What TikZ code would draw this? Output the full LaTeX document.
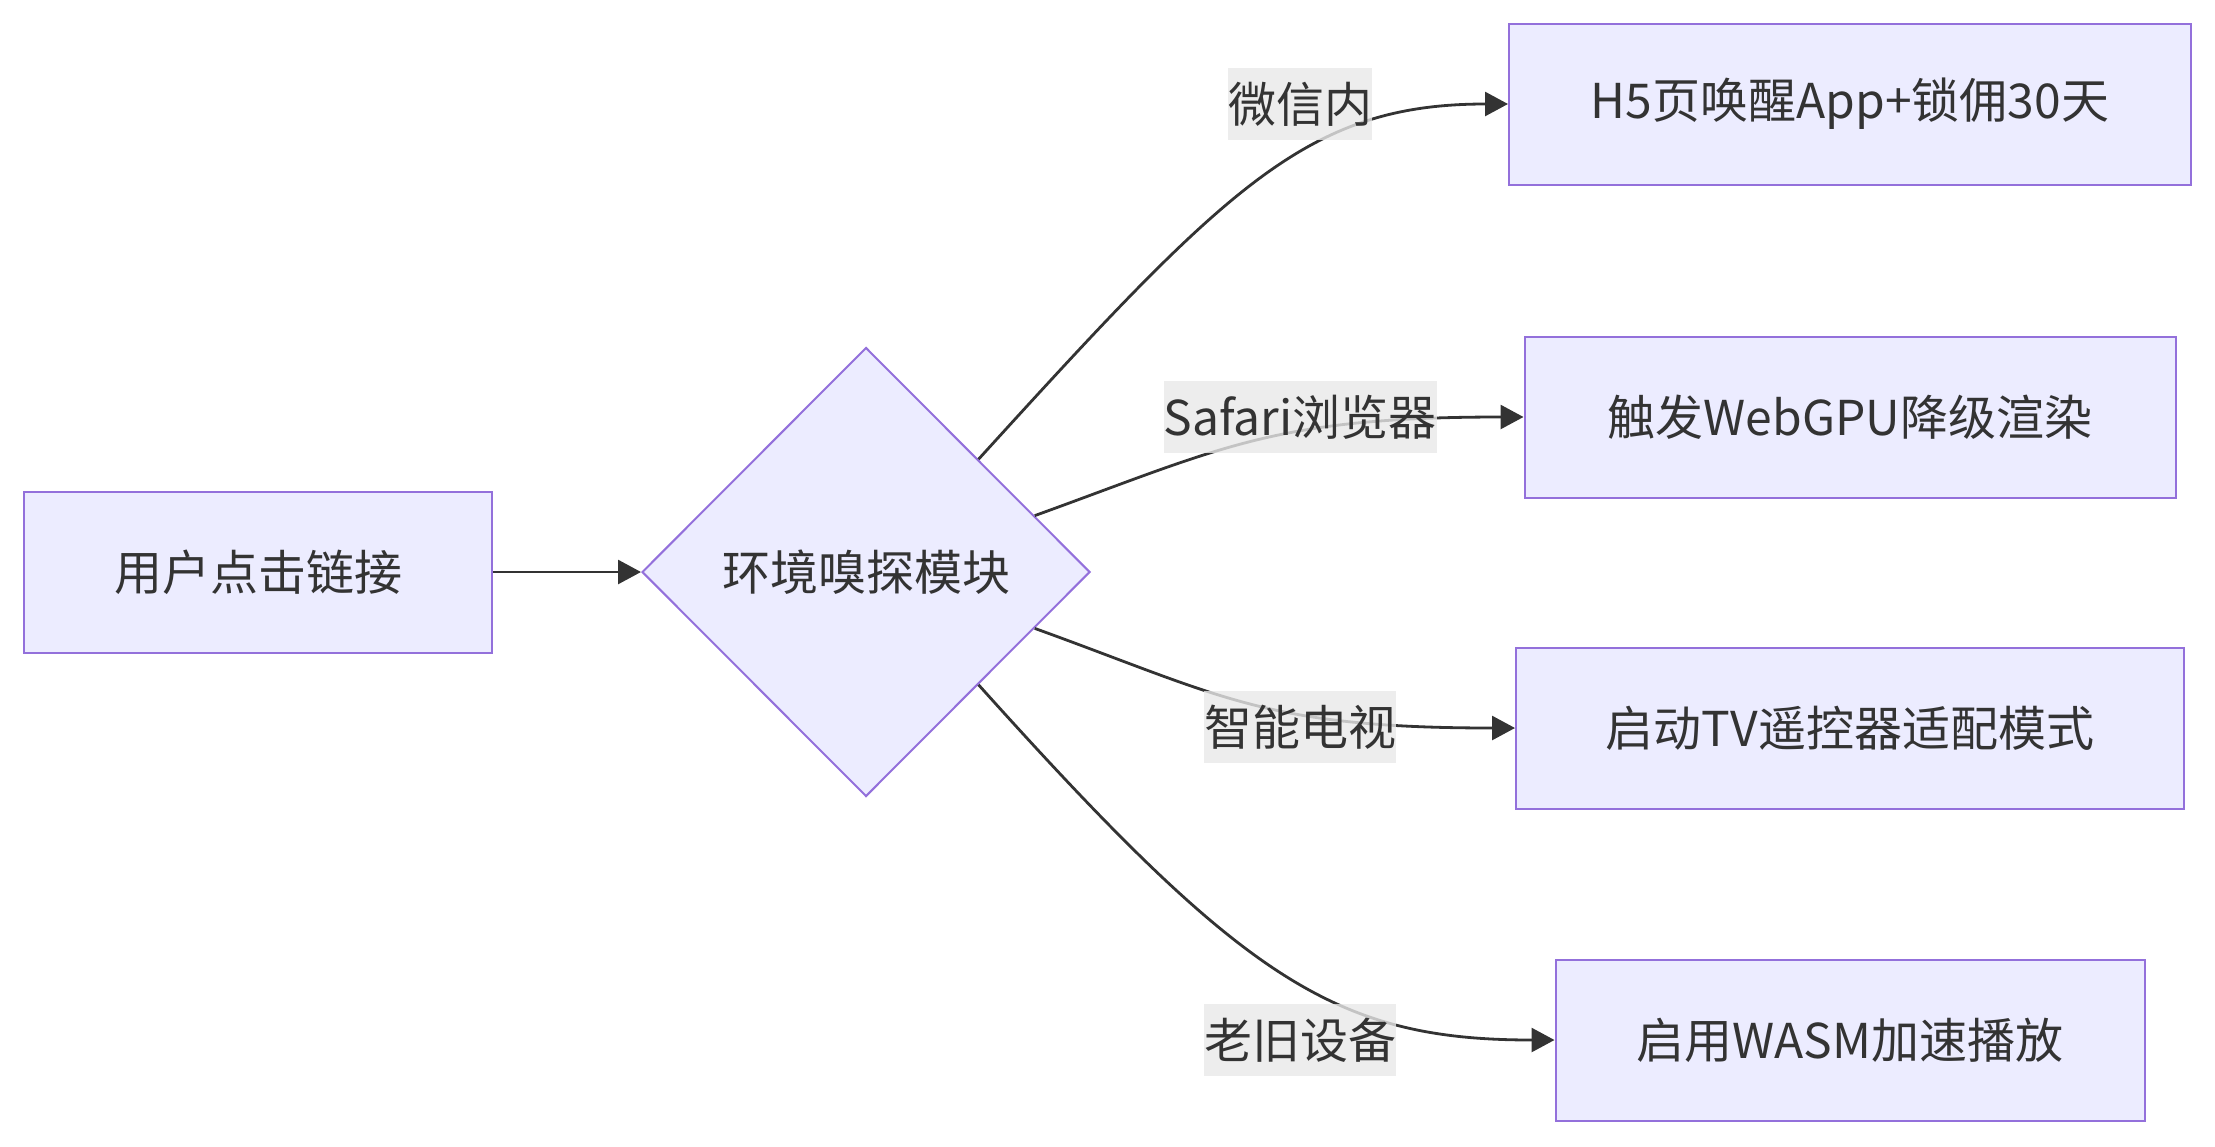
\documentclass[tikz,border=0pt]{standalone}
\usepackage{fontspec}
\setmainfont{Noto Sans CJK SC}
\usetikzlibrary{arrows.meta,shapes.geometric,calc}
\definecolor{nodefill}{HTML}{ECECFF}
\definecolor{nodeline}{HTML}{9370DB}
\definecolor{edgeline}{HTML}{333333}
\definecolor{labelbg}{HTML}{E8E8E8}

\begin{document}
\begin{tikzpicture}[x=0.5pt,y=-0.5pt,
  box/.style={draw=nodeline,fill=nodefill,line width=1pt,minimum width=#1,minimum height=80.5pt,inner sep=0pt,text=edgeline,font=\fontsize{24}{28}\selectfont},
  decision/.style={diamond,draw=nodeline,fill=nodefill,line width=1pt,minimum width=224pt,minimum height=224.5pt,inner sep=0pt,text=edgeline,font=\fontsize{24}{28}\selectfont},
  edgelabel/.style={fill=labelbg,fill opacity=0.8,text opacity=1,inner xsep=0pt,inner ysep=0pt,minimum height=36pt,text=edgeline,font=\fontsize{24}{28}\selectfont},
  flow/.style={draw=edgeline,line width=1.4pt,-{Triangle[length=11.5pt,width=12pt]}},
]
  \useasboundingbox (0,0) rectangle (2215,1146);

  \node[box=234pt] (click) at (258,572) {用户点击链接};
  \node[decision] (sniff) at (866,572) {环境嗅探模块};
  \node[box=341pt] (wake) at (1850,104) {H5页唤醒App+锁佣30天};
  \node[box=325.5pt] (webgpu) at (1850,417) {触发WebGPU降级渲染};
  \node[box=334pt] (tv) at (1850,728) {启动TV遥控器适配模式};
  \node[box=294.5pt] (wasm) at (1850,1040) {启用WASM加速播放};

  \draw[flow] (click.east) -- (sniff.west);
  \draw[flow] (sniff.north east) .. controls +(250,-275) and +(-200,0) .. (wake.west);
  \draw[flow] ($(sniff.north)!0.75!(sniff.east)$) .. controls +(188,-68) and +(-250,0) .. (webgpu.west);
  \draw[flow] ($(sniff.south)!0.75!(sniff.east)$) .. controls +(188,68) and +(-250,0) .. (tv.west);
  \draw[flow] (sniff.south east) .. controls +(265,295) and +(-220,0) .. (wasm.west);

  \node[edgelabel] (wx) at (1300,104) {微信内};
  \node[edgelabel] (sf) at (1300,417) {Safari浏览器};
  \node[edgelabel] (st) at (1300,727) {智能电视};
  \node[edgelabel] (ol) at (1300,1040) {老旧设备};
\end{tikzpicture}
\end{document}
